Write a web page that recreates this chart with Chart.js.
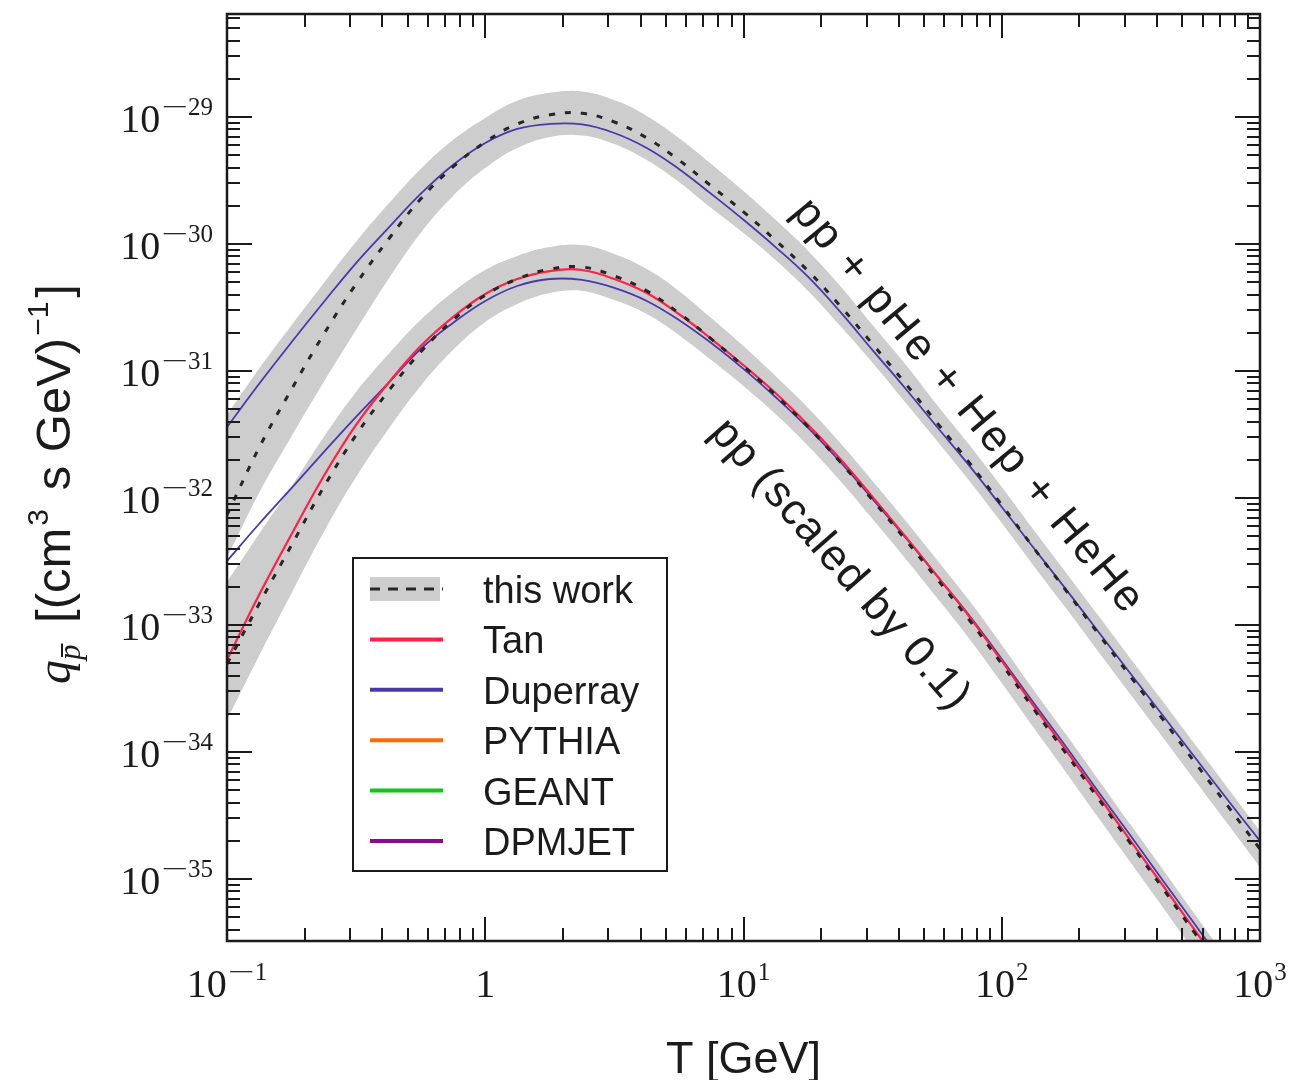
<!DOCTYPE html>
<html>
<head>
<meta charset="utf-8">
<script src="https://cdn.jsdelivr.net/npm/chart.js@4.4.1/dist/chart.umd.min.js"></script>
<style>
html,body{margin:0;padding:0;background:#fff;}
canvas{display:block;}
</style>
</head>
<body>
<canvas id="c" width="1309" height="1080"></canvas>
<script>
// antiproton kinetic energy T [GeV]
const energies = [0.1, 0.133, 0.178, 0.237, 0.316, 0.422, 0.562, 0.75, 1, 1.33, 1.78, 2.37, 3.16, 4.22, 5.62, 7.5,
  10, 13.3, 17.8, 23.7, 31.6, 42.2, 56.2, 75, 100, 133, 178, 237, 316, 422, 562, 750, 1000];

// pp + pHe + Hep + HeHe
const allThisWork = [7.35e-33, 2.48e-32, 7.21e-32, 1.95e-31, 4.84e-31, 1.09e-30, 2.26e-30, 4.04e-30, 6.35e-30, 8.81e-30, 1.04e-29,
  1.07e-29, 9.13e-30, 6.84e-30, 4.58e-30, 2.86e-30, 1.79e-30, 1.07e-30, 6.12e-31, 3.25e-31, 1.63e-31, 8.05e-32, 3.90e-32,
  1.89e-32, 8.81e-33, 4.04e-33, 1.85e-33, 8.49e-34, 3.90e-34, 1.79e-34, 8.19e-35, 3.76e-35, 1.72e-35];
const allBandHi = [4.51e-32, 1.04e-31, 2.30e-31, 4.93e-31, 1.04e-30, 2.07e-30, 3.90e-30, 6.59e-30, 9.82e-30, 1.34e-29, 1.55e-29,
  1.59e-29, 1.36e-29, 1.02e-29, 6.84e-30, 4.27e-30, 2.61e-30, 1.55e-30, 8.81e-31, 4.67e-31, 2.30e-31, 1.14e-31, 5.40e-32,
  2.61e-32, 1.22e-32, 5.60e-33, 2.56e-33, 1.18e-33, 5.40e-34, 2.48e-34, 1.14e-34, 5.21e-35, 2.39e-35];
const allBandLo = [3.37e-33, 1.09e-32, 3.08e-32, 8.19e-32, 2.10e-31, 5.30e-31, 1.22e-30, 2.39e-30, 3.96e-30, 5.70e-30, 6.97e-30,
  7.15e-30, 6.12e-30, 4.58e-30, 3.08e-30, 1.92e-30, 1.22e-30, 7.48e-31, 4.27e-31, 2.26e-31, 1.16e-31, 5.70e-32, 2.81e-32,
  1.36e-32, 6.35e-33, 2.92e-33, 1.34e-33, 6.12e-34, 2.81e-34, 1.29e-34, 5.91e-35, 2.71e-35, 1.24e-35];
const allDuperray = [3.62e-32, 7.90e-32, 1.69e-31, 3.49e-31, 7.08e-31, 1.34e-30, 2.48e-30, 4.19e-30, 6.24e-30, 8.05e-30, 8.81e-30,
  8.73e-30, 7.48e-30, 5.70e-30, 3.90e-30, 2.48e-30, 1.55e-30, 9.46e-31, 5.50e-31, 2.92e-31, 1.46e-31, 7.35e-32, 3.62e-32,
  1.79e-32, 8.50e-33, 4.04e-33, 1.89e-33, 8.81e-34, 4.11e-34, 1.92e-34, 8.97e-35, 4.19e-35, 1.99e-35];

// pp only, scaled by 0.1
const ppThisWork = [4.93e-34, 1.46e-33, 4.27e-33, 1.22e-32, 3.13e-32, 6.96e-32, 1.41e-31, 2.52e-31, 3.96e-31, 5.30e-31, 6.35e-31,
  6.59e-31, 5.60e-31, 4.27e-31, 2.86e-31, 1.79e-31, 1.09e-31, 6.47e-32, 3.62e-32, 1.92e-32, 9.64e-33, 4.75e-33, 2.30e-33,
  1.09e-33, 4.93e-34, 2.18e-34, 9.64e-35, 4.27e-35, 1.89e-35, 8.34e-36, 3.69e-36, 1.63e-36, 7.21e-37];
const ppBandHi = [2.18e-33, 5.21e-33, 1.24e-32, 3.02e-32, 6.84e-32, 1.36e-31, 2.52e-31, 4.19e-31, 6.24e-31, 8.05e-31, 9.46e-31,
  9.82e-31, 8.34e-31, 6.35e-31, 4.27e-31, 2.61e-31, 1.57e-31, 9.14e-32, 5.12e-32, 2.71e-32, 1.36e-32, 6.71e-33, 3.25e-33,
  1.55e-33, 6.97e-34, 3.08e-34, 1.36e-34, 6.02e-35, 2.66e-35, 1.18e-35, 5.21e-36, 2.30e-36, 1.02e-36];
const ppBandLo = [1.79e-34, 5.70e-34, 1.79e-33, 5.40e-33, 1.46e-32, 3.49e-32, 7.62e-32, 1.46e-31, 2.43e-31, 3.37e-31, 4.11e-31,
  4.27e-31, 3.62e-31, 2.81e-31, 1.92e-31, 1.22e-31, 7.62e-32, 4.58e-32, 2.57e-32, 1.36e-32, 6.84e-33, 3.37e-33, 1.63e-33,
  7.76e-34, 3.49e-34, 1.55e-34, 6.84e-35, 3.02e-35, 1.34e-35, 5.91e-36, 2.61e-36, 1.16e-36, 5.12e-37];
const ppTan = [5.30e-34, 1.72e-33, 5.21e-33, 1.49e-32, 3.76e-32, 8.05e-32, 1.57e-31, 2.66e-31, 4.04e-31, 5.30e-31, 6.12e-31,
  6.24e-31, 5.30e-31, 4.11e-31, 2.81e-31, 1.79e-31, 1.11e-31, 6.71e-32, 3.76e-32, 2.03e-32, 1.02e-32, 5.02e-33, 2.43e-33,
  1.16e-33, 5.21e-34, 2.30e-34, 1.02e-34, 4.51e-35, 1.99e-35, 8.81e-36, 3.90e-36, 1.72e-36, 7.62e-37];
const ppDuperray = [3.19e-33, 6.24e-33, 1.20e-32, 2.30e-32, 4.35e-32, 8.05e-32, 1.49e-31, 2.39e-31, 3.56e-31, 4.67e-31, 5.30e-31,
  5.21e-31, 4.51e-31, 3.56e-31, 2.52e-31, 1.66e-31, 1.04e-31, 6.24e-32, 3.56e-32, 1.92e-32, 9.82e-33, 4.93e-33, 2.43e-33,
  1.18e-33, 5.40e-34, 2.43e-34, 1.09e-34, 4.84e-35, 2.18e-35, 9.64e-36, 4.35e-36, 1.92e-36, 8.65e-37];

// axes
const xRange = [0.1, 1000];
const yRange = [3.25e-36, 6.47e-29];
const xTicks = [0.1, 1, 10, 100, 1000];
const xTickLabels = [['10', '−1'], ['1', ''], ['10', '1'], ['10', '2'], ['10', '3']];
const yTicks = [1e-29, 1e-30, 1e-31, 1e-32, 1e-33, 1e-34, 1e-35];
const yTickLabels = [['10', '−29'], ['10', '−30'], ['10', '−31'], ['10', '−32'], ['10', '−33'], ['10', '−34'], ['10', '−35']];
const legendLabels = ['this work', 'Tan', 'Duperray', 'PYTHIA', 'GEANT', 'DPMJET'];

const ink = '#1b1b1b';
const bandGray = '#cdcdcd';
const colors = {tan: '#ff2244', duperray: '#4a38ad', pythia: '#ff6a00', geant: '#14c414', dpmjet: '#8c0a8c'};

const pts = arr => energies.map((t, i) => ({x: t, y: arr[i]}));

const line = (label, arr, color, width, order, extra) => Object.assign({
  label, data: pts(arr), borderColor: color, borderWidth: width, pointRadius: 0,
  fill: false, tension: 0.4, order
}, extra || {});

const datasets = [
  line('this work', allThisWork, '#262626', 3, 1, {borderDash: [6, 10], band: true}),
  line('this work', ppThisWork, '#262626', 3, 1, {borderDash: [6, 10], band: true}),
  line('Tan', ppTan, colors.tan, 2.2, 2),
  line('Duperray', allDuperray, colors.duperray, 1.8, 3),
  line('Duperray', ppDuperray, colors.duperray, 1.8, 3),
  line('band', allBandHi, 'rgba(0,0,0,0)', 0, 10, {fill: '+1', backgroundColor: bandGray}),
  line('band', allBandLo, 'rgba(0,0,0,0)', 0, 10),
  line('band', ppBandHi, 'rgba(0,0,0,0)', 0, 10, {fill: '+1', backgroundColor: bandGray}),
  line('band', ppBandLo, 'rgba(0,0,0,0)', 0, 10),
  {label: 'PYTHIA', data: [], borderColor: colors.pythia, borderWidth: 2, pointRadius: 0},
  {label: 'GEANT', data: [], borderColor: colors.geant, borderWidth: 2, pointRadius: 0},
  {label: 'DPMJET', data: [], borderColor: colors.dpmjet, borderWidth: 2, pointRadius: 0}
];

// minor ticks 2..9 per decade between two exponents
function minorTicks(e0, e1) {
  const out = [];
  for (let e = e0; e <= e1; e++) for (let m = 2; m <= 9; m++) out.push(m * Math.pow(10, e));
  return out;
}

function expLabel(ctx, base, exp, x, y, align) {
  const baseFont = '40px "Liberation Serif"', supFont = '25px "Liberation Serif"';
  const minusStretch = 1.9;
  ctx.font = baseFont;
  const wb = ctx.measureText(base).width;
  ctx.font = supFont;
  const neg = exp.startsWith('−');
  const rest = neg ? exp.slice(1) : exp;
  const wm = neg ? ctx.measureText('−').width * minusStretch : 0;
  const wr = ctx.measureText(rest).width;
  const w = wb + (exp ? 1 + wm + wr : 0);
  let x0 = align === 'right' ? x - w : x - w / 2;
  ctx.textAlign = 'left';
  ctx.textBaseline = 'alphabetic';
  ctx.font = baseFont;
  ctx.fillText(base, x0, y);
  if (!exp) return;
  x0 += wb + 1;
  ctx.font = supFont;
  if (neg) {
    ctx.save();
    ctx.translate(x0, y - 17);
    ctx.scale(minusStretch, 1);
    ctx.fillText('−', 0, 0);
    ctx.restore();
    x0 += wm;
  }
  ctx.fillText(rest, x0, y - 17);
}

// text with pieces in different fonts and shifts along one baseline
function richText(ctx, pieces, x, y, angle) {
  ctx.save();
  ctx.translate(x, y);
  ctx.rotate(angle);
  ctx.textAlign = 'left';
  ctx.textBaseline = 'alphabetic';
  let cx = 0;
  pieces.forEach(p => {
    ctx.font = p.font;
    const w = ctx.measureText(p.t).width;
    ctx.fillText(p.t, cx, p.dy || 0);
    if (p.bar) {
      ctx.lineWidth = 2;
      ctx.beginPath();
      ctx.moveTo(cx + 3, (p.dy || 0) - 18);
      ctx.lineTo(cx + w + 1, (p.dy || 0) - 18);
      ctx.stroke();
    }
    cx += w + (p.gap || 0);
  });
  ctx.restore();
}

function curveLabel(ctx, text, cx, cy, deg, spacing) {
  ctx.save();
  ctx.translate(cx, cy);
  ctx.rotate(deg * Math.PI / 180);
  ctx.font = '44px "Liberation Sans"';
  ctx.letterSpacing = spacing + 'px';
  ctx.textAlign = 'center';
  ctx.textBaseline = 'middle';
  ctx.fillText(text, 0, 0);
  ctx.restore();
}

const decorations = {
  id: 'decorations',
  afterDatasetsDraw(chart) {
    const {ctx, chartArea: a, scales: {x, y}} = chart;
    ctx.save();
    ctx.fillStyle = ink;
    ctx.strokeStyle = ink;

    // ticks on all four sides, pointing inward
    ctx.lineWidth = 2;
    const xt = [...xTicks.map(v => [v, 24]), ...minorTicks(-1, 2).map(v => [v, 13])];
    xt.forEach(([v, len]) => {
      if (v < xRange[0] || v > xRange[1]) return;
      const p = Math.round(x.getPixelForValue(v));
      ctx.beginPath();
      ctx.moveTo(p, a.bottom); ctx.lineTo(p, a.bottom - len);
      ctx.moveTo(p, a.top); ctx.lineTo(p, a.top + len);
      ctx.stroke();
    });
    const yt = [...yTicks.map(v => [v, 25]), ...minorTicks(-37, -29).map(v => [v, 13])];
    yt.forEach(([v, len]) => {
      if (v < yRange[0] || v > yRange[1]) return;
      const p = Math.round(y.getPixelForValue(v));
      ctx.beginPath();
      ctx.moveTo(a.left, p); ctx.lineTo(a.left + len, p);
      ctx.moveTo(a.right, p); ctx.lineTo(a.right - len, p);
      ctx.stroke();
    });

    ctx.lineWidth = 2.5;
    ctx.strokeRect(a.left, a.top, a.right - a.left, a.bottom - a.top);

    // tick labels
    xTicks.forEach((v, i) => expLabel(ctx, xTickLabels[i][0], xTickLabels[i][1], x.getPixelForValue(v), 997, 'center'));
    yTicks.forEach((v, i) => expLabel(ctx, yTickLabels[i][0], yTickLabels[i][1], a.left - 14, y.getPixelForValue(v) + 15, 'right'));

    // axis titles
    ctx.font = '45px "Liberation Sans"';
    ctx.textAlign = 'center';
    ctx.textBaseline = 'alphabetic';
    ctx.fillText('T [GeV]', (a.left + a.right) / 2, 1073);

    const sans = '49px "Liberation Sans"', sup = '30px "Liberation Sans"';
    richText(ctx, [
      {t: 'q', font: 'italic 48px "Liberation Serif"'},
      {t: 'p', font: 'italic 31px "Liberation Serif"', dy: 10, bar: true, gap: 8},
      {t: ' [(cm', font: sans, gap: 2},
      {t: '3', font: sup, dy: -22, gap: 5},
      {t: ' s GeV)', font: sans, gap: 2},
      {t: '−1', font: sup, dy: -22, gap: 4},
      {t: ']', font: sans}
    ], 70, 684, -Math.PI / 2);

    // curve labels
    curveLabel(ctx, 'pp + pHe + Hep + HeHe', 968, 407, 50.3, 2.5);
    curveLabel(ctx, 'pp (scaled by 0.1)', 840, 565, 48.8, 1.2);

    // legend
    const box = {l: 353, t: 558, r: 667, b: 871};
    ctx.fillStyle = '#fff';
    ctx.fillRect(box.l, box.t, box.r - box.l, box.b - box.t);
    ctx.lineWidth = 2;
    ctx.strokeStyle = ink;
    ctx.strokeRect(box.l, box.t, box.r - box.l, box.b - box.t);
    legendLabels.forEach((label, i) => {
      const ds = chart.data.datasets.find(d => d.label === label);
      const ly = 589 + i * 50.4;
      if (ds.band) {
        ctx.fillStyle = bandGray;
        ctx.fillRect(370, ly - 12, 70, 24);
        ctx.setLineDash([10, 8]);
        ctx.strokeStyle = ds.borderColor;
        ctx.lineWidth = 3;
      } else {
        ctx.setLineDash([]);
        ctx.strokeStyle = ds.borderColor;
        ctx.lineWidth = 4;
      }
      ctx.beginPath();
      ctx.moveTo(370, ly); ctx.lineTo(443, ly);
      ctx.stroke();
      ctx.setLineDash([]);
      ctx.fillStyle = ink;
      ctx.font = '38px "Liberation Sans"';
      ctx.textAlign = 'left';
      ctx.textBaseline = 'alphabetic';
      ctx.fillText(label, 483, ly + 14);
    });
    ctx.restore();
  }
};

new Chart(document.getElementById('c'), {
  type: 'line',
  data: {datasets},
  options: {
    responsive: false,
    animation: false,
    devicePixelRatio: 1,
    layout: {padding: {left: 227, right: 49, top: 14, bottom: 139}},
    plugins: {legend: {display: false}, tooltip: {enabled: false}, filler: {propagate: false}},
    scales: {
      x: {type: 'logarithmic', min: xRange[0], max: xRange[1], bounds: 'data', display: false},
      y: {type: 'logarithmic', min: yRange[0], max: yRange[1], bounds: 'data', display: false}
    }
  },
  plugins: [decorations]
});
</script>
</body>
</html>
